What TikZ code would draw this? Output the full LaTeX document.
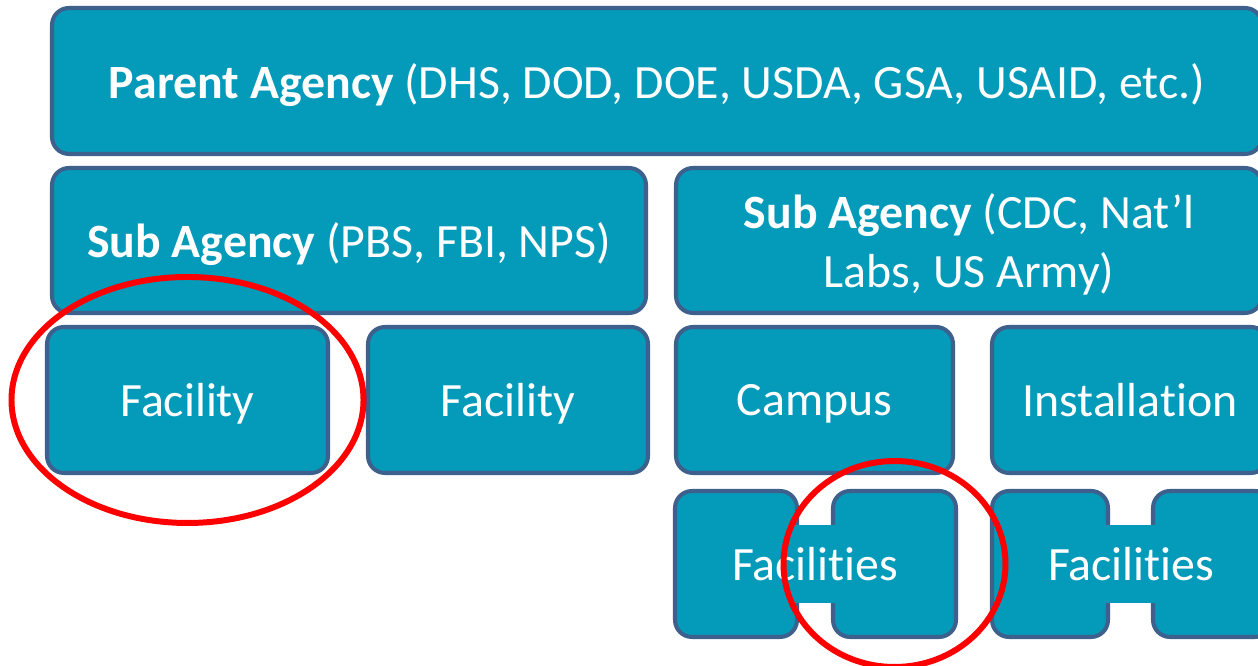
\documentclass[tikz,border=0pt]{standalone}
\usepackage{fontspec}
\setmainfont{Carlito}[Ligatures=NoCommon]
\usetikzlibrary{calc}
\definecolor{boxfill}{RGB}{4,154,185}
\definecolor{boxline}{RGB}{61,96,140}

\begin{document}
\begin{tikzpicture}[
	agency/.style={draw=boxline, fill=boxfill, line width=2.3pt, rounded corners=0.34cm, text=white, inner sep=0pt, text depth=0pt, align=center, font=\fontsize{27.2}{33.6}\selectfont},
	redring/.style={draw=red, line width=3.4pt}]
	\useasboundingbox (0,0) rectangle (25.16,13.32);

	\node[agency, minimum width=24.2cm, minimum height=2.92cm] (parent) at (13.14,11.70) {\textbf{Parent Agency} (DHS, DOD, DOE, USDA, GSA, USAID, etc.)};

	\node[agency, minimum width=11.88cm, minimum height=2.9cm] (subL) at (6.98,8.51) {\textbf{Sub Agency} (PBS, FBI, NPS)};
	\node[agency, minimum width=11.72cm, minimum height=2.9cm] (subR) at (19.38,8.51) {\textbf{Sub Agency} (CDC, Nat’l\\Labs, US Army)};

	\node[agency, minimum width=5.62cm, minimum height=2.92cm] (fac1) at (3.75,5.32) {Facility};
	\node[agency, minimum width=5.6cm, minimum height=2.92cm] (fac2) at (10.16,5.32) {Facility};
	\node[agency, minimum width=5.54cm, minimum height=2.92cm] (campus) at (16.29,5.32) {Campus};
	\node[agency, minimum width=5.52cm, minimum height=2.92cm] (install) at (22.6,5.32) {Installation};

	\node[agency, minimum width=2.44cm, minimum height=2.92cm] (facA) at (14.72,2.04) {};
	\node[agency, minimum width=2.46cm, minimum height=2.92cm] (facB) at (17.89,2.04) {};
	\node[agency, minimum width=2.32cm, minimum height=2.92cm] (facC) at (21.0,2.04) {};
	\node[agency, minimum width=2.38cm, minimum height=2.92cm] (facD) at (24.25,2.04) {};

	\fill[boxfill] ([yshift=-0.78cm]facA.center) rectangle ([yshift=0.78cm]facB.center);
	\fill[boxfill] ([yshift=-0.78cm]facC.center) rectangle ([yshift=0.78cm]facD.center);
	\node[agency, draw=none, fill=none] (facAB) at ($(facA.center)!0.5!(facB.center)$) {Facilities};
	\node[agency, draw=none, fill=none] (facCD) at ($(facC.center)!0.5!(facD.center)$) {Facilities};

	\draw[redring] (fac1.center) ellipse (3.52cm and 2.46cm);
	\draw[redring] (facB.center) ellipse (2.22cm and 2.06cm);
\end{tikzpicture}
\end{document}
